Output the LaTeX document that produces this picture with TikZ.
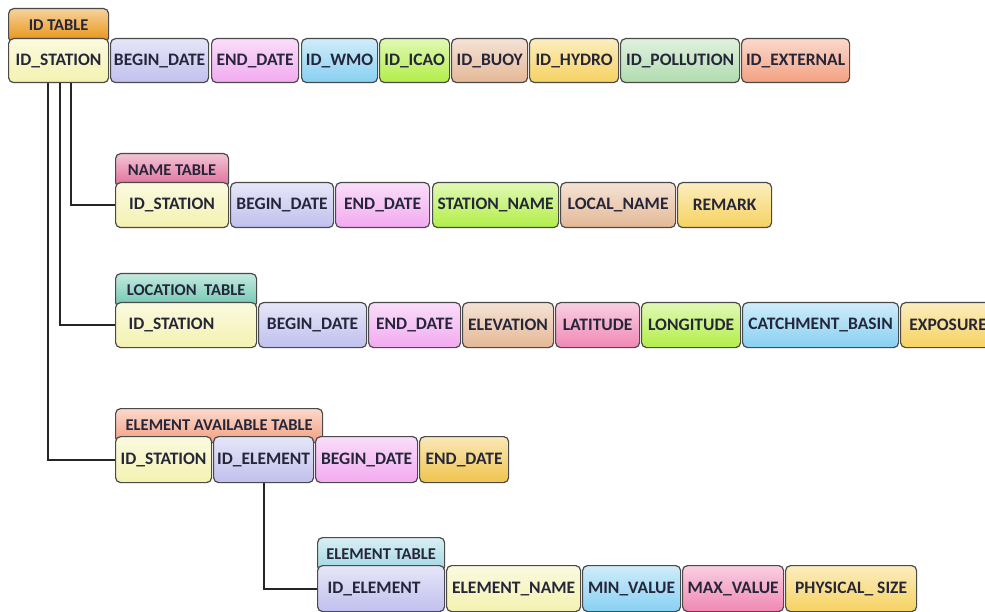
\documentclass[tikz,border=0pt]{standalone}
\usepackage{fontspec}
\setmainfont{Carlito}
\usepackage{xcolor}
\definecolor{cstation}{HTML}{F4F2B0}
\definecolor{cbegin}{HTML}{C0C0EE}
\definecolor{cend}{HTML}{F2AAF0}
\definecolor{cwmo}{HTML}{88D0F2}
\definecolor{cicao}{HTML}{B2EE48}
\definecolor{cbuoy}{HTML}{E4B896}
\definecolor{chydro}{HTML}{F6D260}
\definecolor{cpoll}{HTML}{B0DCAE}
\definecolor{cext}{HTML}{F4A080}
\definecolor{clat}{HTML}{F088B4}
\definecolor{cdate}{HTML}{F0C44C}
\definecolor{cidtab}{HTML}{E8900C}
\definecolor{cnametab}{HTML}{E06A96}
\definecolor{cloctab}{HTML}{6CC6AE}
\definecolor{ceatab}{HTML}{F4A080}
\definecolor{celtab}{HTML}{A0D6E2}
\definecolor{ctxt}{HTML}{26263A}
\definecolor{cedge}{HTML}{4A4A4A}

\begin{document}
\begin{tikzpicture}[x=1pt, y=-1pt]
    \tikzset{field/.style={draw=cedge, line width=1.2pt, rounded corners=5pt,
            anchor=north west, inner sep=0pt, top color=#1!40!white,
            bottom color=#1, text=ctxt,
            font=\bfseries\fontsize{17.5}{17.5}\selectfont},
        tab/.style={field=#1, minimum height=34,
            font=\bfseries\fontsize{16.5}{16.5}\selectfont},
        link/.style={line width=2pt, draw=black!85}}
    \useasboundingbox (0,0) rectangle (985,612);
    \fill[white] (0,0) rectangle (985,612);
    % ID table
    \node[tab=cidtab, minimum width=100] (idtab) at (8,8) {ID TABLE};
    \node[field=cstation, minimum width=100, minimum height=44] (id1) at (8,38) {ID\_STATION};
    \node[field=cbegin, minimum width=98, minimum height=44] (id2) at (110,38) {BEGIN\_DATE};
    \node[field=cend, minimum width=87, minimum height=44] (id3) at (211,38) {END\_DATE};
    \node[field=cwmo, minimum width=76, minimum height=44] (id4) at (301,38) {ID\_WMO};
    \node[field=cicao, minimum width=70, minimum height=44] (id5) at (379,38) {ID\_ICAO};
    \node[field=cbuoy, minimum width=76, minimum height=44] (id6) at (451,38) {ID\_BUOY};
    \node[field=chydro, minimum width=89, minimum height=44] (id7) at (529,38) {ID\_HYDRO};
    \node[field=cpoll, minimum width=119, minimum height=44] (id8) at (620,38) {ID\_POLLUTION};
    \node[field=cext, minimum width=108, minimum height=44] (id9) at (741,38) {ID\_EXTERNAL};
    % name table
    \node[tab=cnametab, minimum width=113] (nmtab) at (115,153) {NAME TABLE};
    \node[field=cstation, minimum width=113, minimum height=45] (nm1) at (115,182) {ID\_STATION};
    \node[field=cbegin, minimum width=103, minimum height=45] (nm2) at (230,182) {BEGIN\_DATE};
    \node[field=cend, minimum width=94, minimum height=45] (nm3) at (335,182) {END\_DATE};
    \node[field=cicao, minimum width=126, minimum height=45] (nm4) at (432,182) {STATION\_NAME};
    \node[field=cbuoy, minimum width=115, minimum height=45] (nm5) at (560,182) {LOCAL\_NAME};
    \node[field=chydro, minimum width=94, minimum height=45] (nm6) at (677,182) {REMARK};
    % location table
    \node[tab=cloctab, minimum width=141] (lctab) at (115,273) {LOCATION\ \ TABLE};
    \node[field=cstation, minimum height=45, inner xsep=13, text width=115, align=left] (lc1) at (115,302) {ID\_STATION};
    \node[field=cbegin, minimum width=108, minimum height=45] (lc2) at (258,302) {BEGIN\_DATE};
    \node[field=cend, minimum width=92, minimum height=45] (lc3) at (368,302) {END\_DATE};
    \node[field=cbuoy, minimum width=91, minimum height=45] (lc4) at (462,302) {ELEVATION};
    \node[field=clat, minimum width=84, minimum height=45] (lc5) at (555,302) {LATITUDE};
    \node[field=cicao, minimum width=99, minimum height=45] (lc6) at (641,302) {LONGITUDE};
    \node[field=cwmo, minimum width=156, minimum height=45] (lc7) at (742,302) {CATCHMENT\_BASIN};
    \node[field=chydro, minimum width=95, minimum height=45] (lc8) at (900,302) {EXPOSURE};
    % element available table
    \node[tab=ceatab, minimum width=207] (eatab) at (115,408) {ELEMENT AVAILABLE TABLE};
    \node[field=cstation, minimum width=96, minimum height=46] (ea1) at (115,436) {ID\_STATION};
    \node[field=cbegin, minimum width=100, minimum height=46] (ea2) at (213,436) {ID\_ELEMENT};
    \node[field=cend, minimum width=102, minimum height=46] (ea3) at (315,436) {BEGIN\_DATE};
    \node[field=cdate, minimum width=89, minimum height=46] (ea4) at (419,436) {END\_DATE};
    % element table
    \node[tab=celtab, minimum width=127] (eltab) at (317,537) {ELEMENT TABLE};
    \node[field=cbegin, minimum height=46, inner xsep=10, text width=107, align=left] (el1) at (317,565) {ID\_ELEMENT};
    \node[field=cstation, minimum width=134, minimum height=46] (el2) at (446,565) {ELEMENT\_NAME};
    \node[field=cwmo, minimum width=98, minimum height=46] (el3) at (582,565) {MIN\_VALUE};
    \node[field=clat, minimum width=101, minimum height=46] (el4) at (682,565) {MAX\_VALUE};
    \node[field=chydro, minimum width=131, minimum height=46] (el5) at (785,565) {PHYSICAL\_ SIZE};
    % links
    \draw[link] ([xshift=12]id1.south) |- (nm1.west);
    \draw[link] ([xshift=1]id1.south) |- (lc1.west);
    \draw[link] ([xshift=-11]id1.south) |- (ea1.west);
    \draw[link] (ea2.south) |- (el1.west);
\end{tikzpicture}
\end{document}
